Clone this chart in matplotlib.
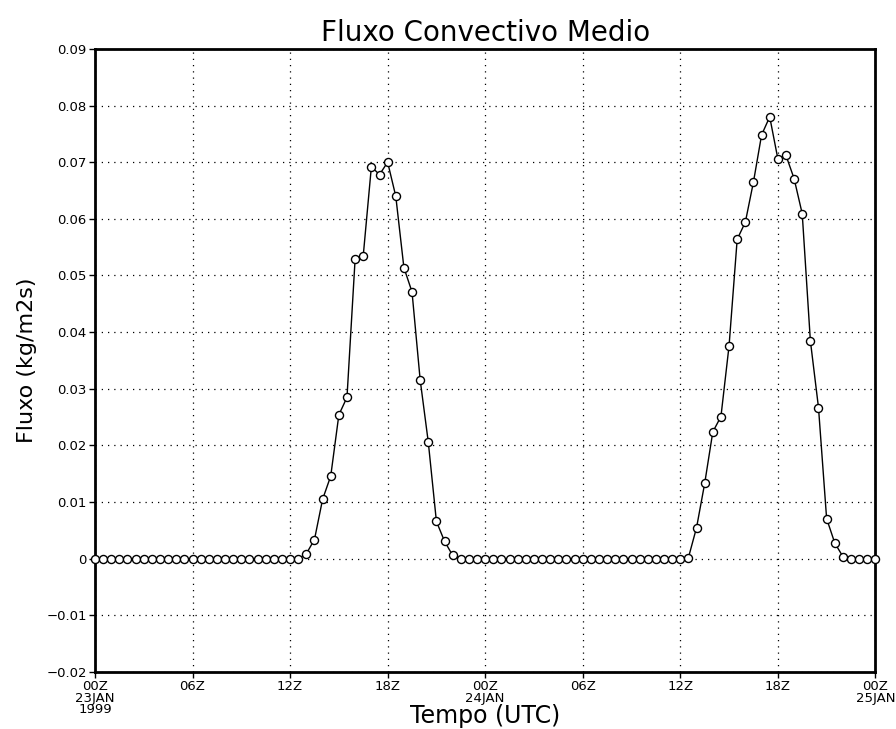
import matplotlib
matplotlib.use("Agg")
import matplotlib.pyplot as plt
import numpy as np

# time in hours since 00Z 23JAN1999, every 30 minutes
hours = [i * 0.5 for i in range(97)]

flux = ([0.0] * 26 +
        [0.0009, 0.0034, 0.0105, 0.0146, 0.0254, 0.0285, 0.0529, 0.0535, 0.0692,
         0.0678, 0.0700, 0.0640, 0.0514, 0.0471, 0.0316, 0.0206, 0.0066, 0.0031, 0.0006] +
        [0.0] * 28 +
        [0.0002, 0.0055, 0.0133, 0.0224, 0.0251, 0.0376, 0.0564, 0.0594, 0.0665, 0.0748,
         0.0780, 0.0706, 0.0712, 0.0671, 0.0609, 0.0385, 0.0267, 0.0071, 0.0028, 0.0004] +
        [0.0] * 4)

xtick_pos = [0, 6, 12, 18, 24, 30, 36, 42, 48]
xtick_labels = ["00Z\n23JAN\n1999", "06Z", "12Z", "18Z", "00Z\n24JAN", "06Z", "12Z", "18Z", "00Z\n25JAN"]
ytick_pos = [-0.02, -0.01, 0, 0.01, 0.02, 0.03, 0.04, 0.05, 0.06, 0.07, 0.08, 0.09]
ytick_labels = ["\u22120.02", "\u22120.01", "0", "0.01", "0.02", "0.03", "0.04",
                "0.05", "0.06", "0.07", "0.08", "0.09"]

tick_font = ["Liberation Sans Narrow", "DejaVu Sans"]

fig = plt.figure(figsize=(8.96, 7.29), dpi=100)
ax = fig.add_axes([0.106, 0.078, 0.871, 0.855])

ax.plot(hours, flux, color="black", linewidth=1.0, marker="o", markersize=5.8,
        markerfacecolor="white", markeredgecolor="black", markeredgewidth=1.0,
        clip_on=False, zorder=3)

ax.set_xlim(0, 48)
ax.set_ylim(-0.02, 0.09)
ax.set_xticks(xtick_pos)
ax.set_xticklabels(xtick_labels, family=tick_font, fontsize=9.5, linespacing=0.85)
ax.set_yticks(ytick_pos)
ax.set_yticklabels(ytick_labels, family=tick_font, fontsize=9.5)

ax.grid(True, linestyle=(0, (1, 4)), color="black", linewidth=0.9)
for s in ax.spines.values():
    s.set_linewidth(2.0)
ax.tick_params(axis="both", direction="out", length=4, width=1, pad=2)

ax.set_title("Fluxo Convectivo Medio", fontsize=20, family="DejaVu Sans", pad=6)
ax.set_xlabel("Tempo (UTC)", fontsize=17, family="DejaVu Sans")
ax.xaxis.set_label_coords(0.5, -0.051)
ax.set_ylabel("Fluxo (kg/m2s)", fontsize=16, family="DejaVu Sans")
ax.yaxis.set_label_coords(-0.074, 0.5)

fig.savefig("out.png", dpi=100, facecolor="white")
